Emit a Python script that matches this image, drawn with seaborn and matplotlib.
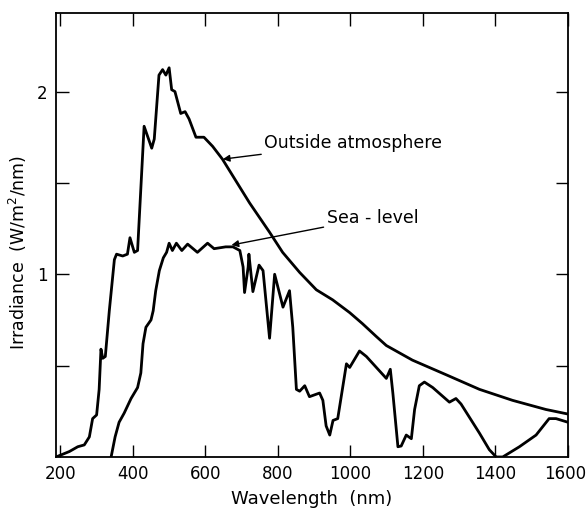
import matplotlib
matplotlib.use("Agg")
import matplotlib.pyplot as plt
import matplotlib.transforms as mtransforms
import seaborn as sns
import pandas as pd
from matplotlib.ticker import FixedLocator, FixedFormatter

# Outside atmosphere spectrum (wavelength nm, irradiance W/m2/nm)
outside_wl = [188, 225, 248, 266, 280, 289, 300, 307, 312, 317, 324, 335, 349, 355,
              372, 385, 392, 404, 413, 431, 452, 459, 472, 482, 491, 500, 507, 516,
              532, 544, 555, 574, 596, 620, 647, 722, 777, 813, 860, 906, 951, 998,
              1033, 1071, 1099, 1171, 1264, 1356, 1447, 1539, 1600]
outside_irr = [0.0, 0.03, 0.056, 0.066, 0.11, 0.21, 0.23, 0.37, 0.59, 0.54, 0.55, 0.80,
               1.08, 1.11, 1.10, 1.11, 1.20, 1.12, 1.13, 1.81, 1.69, 1.74, 2.09, 2.12,
               2.09, 2.13, 2.01, 2.00, 1.88, 1.89, 1.85, 1.75, 1.75, 1.70, 1.63, 1.39,
               1.23, 1.12, 1.01, 0.915, 0.86, 0.79, 0.73, 0.66, 0.61, 0.53, 0.45, 0.37,
               0.31, 0.26, 0.235]

# Sea-level spectrum
sea_wl = [340, 351, 362, 376, 395, 413, 422, 428, 436, 450, 456, 463, 473, 484, 493,
          500, 509, 520, 535, 551, 578, 606, 624, 656, 676, 695, 704, 708, 718, 720,
          731, 748, 759, 777, 791, 814, 832, 841, 851, 860, 874, 887, 915, 924, 933,
          943, 952, 965, 989, 998, 1025, 1044, 1099, 1110, 1117, 1131, 1140, 1154,
          1168, 1177, 1190, 1204, 1227, 1273, 1291, 1305, 1356, 1383, 1402, 1420,
          1466, 1512, 1548, 1567, 1600]
sea_irr = [0.0, 0.11, 0.19, 0.24, 0.32, 0.38, 0.46, 0.62, 0.71, 0.75, 0.80, 0.91, 1.02,
           1.09, 1.12, 1.17, 1.13, 1.17, 1.13, 1.165, 1.12, 1.17, 1.14, 1.15, 1.15, 1.13,
           1.04, 0.90, 1.04, 1.11, 0.905, 1.05, 1.02, 0.65, 1.00, 0.82, 0.91, 0.71, 0.37,
           0.36, 0.39, 0.33, 0.35, 0.31, 0.17, 0.12, 0.20, 0.21, 0.51, 0.49, 0.58, 0.55,
           0.43, 0.48, 0.35, 0.056, 0.06, 0.12, 0.10, 0.26, 0.39, 0.41, 0.38, 0.30, 0.32,
           0.29, 0.13, 0.04, 0.0, 0.0, 0.056, 0.12, 0.21, 0.21, 0.19]

x_ticks = [200, 400, 600, 800, 1000, 1200, 1400, 1600]
y_ticks = [0.5, 1, 1.5, 2]
y_tick_labels = ["", "1", "", "2"]

sns.set_style("ticks")
plt.rcParams["font.family"] = ["DejaVu Sans"]
plt.rcParams["text.color"] = "black"
plt.rcParams["axes.labelcolor"] = "black"

fig = plt.figure(figsize=(5.87, 5.13), dpi=100)
ax = fig.add_axes([0.0954, 0.1092, 0.8722, 0.8655])

df_out = pd.DataFrame({"wl": outside_wl, "irr": outside_irr})
df_sea = pd.DataFrame({"wl": sea_wl, "irr": sea_irr})
sns.lineplot(data=df_out, x="wl", y="irr", ax=ax, color="black", lw=2.0, sort=False,
             solid_joinstyle="round", solid_capstyle="round")
sns.lineplot(data=df_sea, x="wl", y="irr", ax=ax, color="black", lw=2.0, sort=False,
             solid_joinstyle="round", solid_capstyle="round")

ax.set_xlim(188, 1600)
ax.set_ylim(0, 2.43)

ax.xaxis.set_major_locator(FixedLocator(x_ticks))
ax.yaxis.set_major_locator(FixedLocator(y_ticks))
ax.yaxis.set_major_formatter(FixedFormatter(y_tick_labels))
ax.tick_params(direction="in", length=9, width=1.0, top=True, right=True,
               labelsize=12, colors="black", pad=6)
for s in ax.spines.values():
    s.set_visible(True)
    s.set_linewidth(1.3)
    s.set_color("black")

# nudge last x tick label so it stays inside the figure
fig.canvas.draw()
last = ax.get_xticklabels()[-1]
last.set_transform(last.get_transform() +
                   mtransforms.ScaledTranslation(-3 / 100, 0, fig.dpi_scale_trans))

ax.set_xlabel("Wavelength  (nm)", fontsize=13, labelpad=5)
ax.set_ylabel("Irradiance  (W/m$^2$/nm)", fontsize=12.5)
ax.yaxis.set_label_coords(-0.053, 0.46)

ax.annotate("Outside atmosphere", xy=(648, 1.63), xytext=(763, 1.72),
            fontsize=12.5, va="center", ha="left",
            arrowprops=dict(arrowstyle="-|>", color="black", lw=1.0,
                            mutation_scale=10, shrinkA=0, shrinkB=0))
ax.annotate("Sea - level", xy=(672, 1.16), xytext=(935, 1.31),
            fontsize=12.5, va="center", ha="left",
            arrowprops=dict(arrowstyle="-|>", color="black", lw=1.0,
                            mutation_scale=10, shrinkA=0, shrinkB=0))

fig.savefig("out.png", dpi=100)
